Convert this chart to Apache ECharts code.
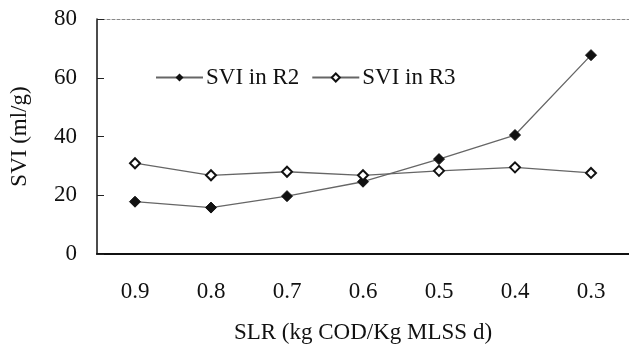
<!DOCTYPE html>
<html>
<head>
<meta charset="utf-8">
<script src="https://cdn.jsdelivr.net/npm/echarts@6/dist/echarts.min.js"></script>
<style>
  html, body { margin: 0; padding: 0; background: #fff; }
  #chart { width: 629px; height: 351px; }
</style>
</head>
<body>
<div id="chart"></div>
<script>
// Sludge loading rate categories (kg COD / kg MLSS d)
const slrLabels = ['0.9', '0.8', '0.7', '0.6', '0.5', '0.4', '0.3'];
// Sludge volume index (ml/g) per reactor
const sviR2 = [17.8, 15.8, 19.7, 24.6, 32.3, 40.5, 67.7];
const sviR3 = [30.9, 26.8, 28.0, 26.8, 28.3, 29.5, 27.6];
const yTicks = [0, 20, 40, 60, 80];

const serif = 'Liberation Serif';
const ink = '#111';
const chart = echarts.init(document.getElementById('chart'));

chart.setOption({
  animation: false,
  backgroundColor: '#fff',
  textStyle: { fontFamily: serif, color: ink },
  grid: { left: 92, top: 19, bottom: 97, right: -7 },
  legend: {
    left: 150,
    top: 61,
    itemWidth: 47,
    itemHeight: 10,
    itemGap: 12,
    textStyle: { fontFamily: serif, fontSize: 23, color: ink, padding: [0, 0, 0, -2] },
    data: ['SVI in R2', 'SVI in R3']
  },
  xAxis: [{
    type: 'category',
    data: slrLabels,
    boundaryGap: true,
    name: 'SLR (kg COD/Kg MLSS d)',
    nameLocation: 'middle',
    nameGap: 67,
    nameTextStyle: { fontFamily: serif, fontSize: 23, color: ink },
    axisLine: { lineStyle: { color: '#111', width: 2 } },
    axisTick: { inside: true, length: 6, lineStyle: { color: '#111', width: 1 } },
    axisLabel: { margin: 26, fontFamily: serif, fontSize: 23, color: ink },
    splitLine: { show: false }
  }, {
    type: 'category',
    data: slrLabels,
    position: 'top',
    axisLine: { lineStyle: { color: '#888', width: 1, type: [3, 2] } },
    axisTick: { show: false },
    axisLabel: { show: false }
  }],
  yAxis: {
    type: 'value',
    min: yTicks[0],
    max: yTicks[yTicks.length - 1],
    interval: 20,
    name: 'SVI (ml/g)',
    nameLocation: 'middle',
    nameGap: 66,
    nameTextStyle: { fontFamily: serif, fontSize: 23, color: ink },
    axisLine: { show: true, lineStyle: { color: '#111', width: 1.5 } },
    axisTick: { show: true, inside: true, length: 7, lineStyle: { color: '#222', width: 1 } },
    axisLabel: { margin: 20, fontFamily: serif, fontSize: 23, color: ink },
    splitLine: { show: false }
  },
  series: [{
    name: 'SVI in R2',
    type: 'line',
    data: sviR2,
    symbol: 'diamond',
    symbolSize: 11,
    itemStyle: { color: '#111', borderColor: '#111' },
    lineStyle: { color: '#666', width: 1.3 }
  }, {
    name: 'SVI in R3',
    type: 'line',
    data: sviR3,
    symbol: 'emptyDiamond',
    symbolSize: 10,
    itemStyle: { color: '#111', borderWidth: 1.8 },
    lineStyle: { color: '#666', width: 1.3 }
  }]
});
</script>
</body>
</html>
